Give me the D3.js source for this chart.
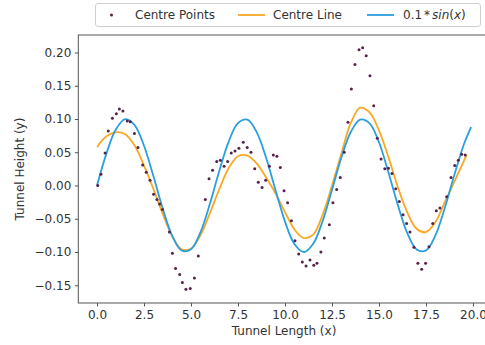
<!DOCTYPE html>
<html><head><meta charset="utf-8">
<script src="https://cdn.jsdelivr.net/npm/d3@7"></script>
<style>body{margin:0;background:#fff}svg{display:block;font-family:"DejaVu Sans",sans-serif}</style>
</head><body>
<svg id="c" width="485" height="345"></svg>
<script>
const pointX = [0.04,0.21,0.43,0.60,0.82,1.03,1.19,1.38,1.61,1.77,1.99,2.18,2.43,2.62,2.82,3.01,3.19,3.33,3.48,3.85,4.01,4.18,4.40,4.54,4.73,4.96,5.18,5.39,5.76,5.96,6.15,6.37,6.56,6.76,6.95,7.14,7.34,7.55,7.78,7.99,8.19,8.39,8.58,8.78,8.97,9.17,9.38,9.57,9.75,9.95,10.14,10.34,10.53,10.73,10.92,11.12,11.33,11.53,11.70,11.91,12.09,12.36,12.55,12.75,12.94,13.15,13.35,13.53,13.72,13.94,14.13,14.32,14.52,14.72,14.91,15.11,15.31,15.50,15.69,15.89,16.08,16.28,16.47,16.65,16.86,17.07,17.27,17.48,17.66,17.86,18.05,18.24,18.60,18.83,19.03,19.22,19.40,19.59];
const pointY = [0.000,0.017,0.049,0.082,0.101,0.108,0.115,0.112,0.097,0.096,0.078,0.057,0.031,0.020,0.008,-0.013,-0.021,-0.028,-0.036,-0.070,-0.102,-0.125,-0.134,-0.146,-0.156,-0.155,-0.139,-0.106,-0.021,0.010,0.023,0.036,0.038,0.029,0.036,0.049,0.052,0.056,0.065,0.057,0.050,0.025,0.005,-0.003,0.008,0.029,0.046,0.044,0.027,-0.008,-0.026,-0.053,-0.083,-0.103,-0.115,-0.121,-0.112,-0.120,-0.117,-0.100,-0.079,-0.059,-0.026,-0.006,0.012,0.050,0.095,0.145,0.182,0.204,0.207,0.195,0.165,0.120,0.071,0.040,0.025,0.026,0.018,-0.005,-0.024,-0.044,-0.057,-0.070,-0.093,-0.117,-0.126,-0.117,-0.092,-0.057,-0.038,-0.034,-0.017,0.012,0.030,0.038,0.047,0.046];

const lineX = [0,0.5,1.0,1.5,2.0,2.5,3.0,3.5,4.0,4.5,5.0,5.5,6.0,6.5,7.0,7.5,8.0,8.5,9.0,9.5,10.0,10.5,11.0,11.5,12.0,12.5,13.0,13.5,14.0,14.5,15.0,15.5,16.0,16.5,17.0,17.5,18.0,18.5,19.0,19.5,19.66];
const lineY = [0.058,0.074,0.080,0.077,0.060,0.030,-0.005,-0.043,-0.076,-0.096,-0.095,-0.075,-0.042,-0.006,0.026,0.044,0.045,0.033,0.012,-0.012,-0.040,-0.066,-0.079,-0.074,-0.044,0.000,0.048,0.094,0.117,0.110,0.083,0.043,-0.002,-0.040,-0.065,-0.070,-0.055,-0.025,0.005,0.036,0.046];

const sinX = [0,0.5,1.0,1.5,2.0,2.5,3.0,3.5,4.0,4.5,5.0,5.5,6.0,6.5,7.0,7.5,8.0,8.5,9.0,9.5,10.0,10.5,11.0,11.5,12.0,12.5,13.0,13.5,14.0,14.5,15.0,15.5,16.0,16.5,17.0,17.5,18.0,18.5,19.0,19.5,19.9];
const sinY = [0,0.0479,0.0841,0.0997,0.0909,0.0598,0.0141,-0.0351,-0.0757,-0.0978,-0.0959,-0.0706,-0.0279,0.0215,0.0657,0.0938,0.0989,0.0798,0.0412,-0.0075,-0.0544,-0.0880,-0.1000,-0.0875,-0.0537,-0.0066,0.0420,0.0804,0.0991,0.0935,0.0650,0.0199,-0.0288,-0.0712,-0.0961,-0.0978,-0.0751,-0.0338,0.0150,0.0606,0.0877];

const xTicks = [0,2.5,5,7.5,10,12.5,15,17.5,20];
const yTicks = [-0.15,-0.10,-0.05,0.00,0.05,0.10,0.15,0.20];
const legendLabels = ["Centre Points","Centre Line"];

const svg = d3.select("#c");
const L = 78.3, R = 489.8, T = 35, B = 303;
const x = d3.scaleLinear().domain([-0.995,20.895]).range([L,R]);
const y = d3.scaleLinear().domain([-0.1767,0.2263]).range([B,T]);

const textCol = "#333", spineCol = "#555";

// lines
const lg = d3.line().x(d=>x(d[0])).y(d=>y(d[1])).curve(d3.curveCatmullRom.alpha(0.5));
const gPlot = svg.append("g");
gPlot.append("path").datum(d3.zip(lineX,lineY)).attr("d",lg)
  .attr("fill","none").attr("stroke","#f9a825").attr("stroke-width",1.8);
gPlot.append("path").datum(d3.zip(sinX,sinY)).attr("d",lg)
  .attr("fill","none").attr("stroke","#2a9fe0").attr("stroke-width",1.8);
gPlot.selectAll("circle").data(d3.zip(pointX,pointY)).join("circle")
  .attr("cx",d=>x(d[0])).attr("cy",d=>y(d[1])).attr("r",1.5).attr("fill","#55224a");

// axes
const ax = svg.append("g").attr("transform",`translate(0,${B})`)
  .call(d3.axisBottom(x).tickValues(xTicks).tickFormat(d3.format(".1f")).tickSize(3.5).tickPadding(3.5));
const ay = svg.append("g").attr("transform",`translate(${L},0)`)
  .call(d3.axisLeft(y).tickValues(yTicks).tickFormat(d3.format(".2f")).tickSize(3.5).tickPadding(3.5));
[ax,ay].forEach(g=>{
  g.select(".domain").remove();
  g.selectAll("line").attr("stroke",spineCol);
  g.selectAll("text").attr("fill",textCol).attr("font-size",12).attr("font-family","DejaVu Sans");
});
// spines
svg.append("rect").attr("x",L).attr("y",T).attr("width",R-L).attr("height",B-T)
  .attr("fill","none").attr("stroke",spineCol).attr("stroke-width",1);

// axis labels
svg.append("text").attr("x",(L+R)/2).attr("y",335).attr("text-anchor","middle")
  .attr("font-size",12).attr("fill",textCol).text("Tunnel Length (x)");
svg.append("text").attr("transform",`translate(24,${(T+B)/2}) rotate(-90)`).attr("text-anchor","middle")
  .attr("font-size",12).attr("fill",textCol).text("Tunnel Height (y)");

// legend
const lgG = svg.append("g");
lgG.append("rect").attr("x",95.5).attr("y",3.5).attr("width",385).attr("height",23).attr("rx",2.5)
  .attr("fill","#fff").attr("stroke","#cfcfcf");
lgG.append("circle").attr("cx",111.5).attr("cy",15).attr("r",1.5).attr("fill","#55224a");
lgG.append("text").attr("x",135).attr("y",19.3).attr("font-size",12).attr("fill",textCol).text(legendLabels[0]);
lgG.append("line").attr("x1",238).attr("x2",265).attr("y1",15).attr("y2",15).attr("stroke","#f9a825").attr("stroke-width",1.8);
lgG.append("text").attr("x",273).attr("y",19.3).attr("font-size",12).attr("fill",textCol).text(legendLabels[1]);
lgG.append("line").attr("x1",367).attr("x2",394).attr("y1",15).attr("y2",15).attr("stroke","#2a9fe0").attr("stroke-width",1.8);
const st = lgG.append("text").attr("x",403).attr("y",19.3).attr("font-size",12).attr("fill",textCol);
st.append("tspan").text("0.1");
st.append("tspan").attr("dx",2).text("*");
st.append("tspan").attr("dx",2).attr("font-style","italic").text("sin");
st.append("tspan").text("(");
st.append("tspan").attr("font-style","italic").text("x");
st.append("tspan").text(")");
</script>
</body></html>
